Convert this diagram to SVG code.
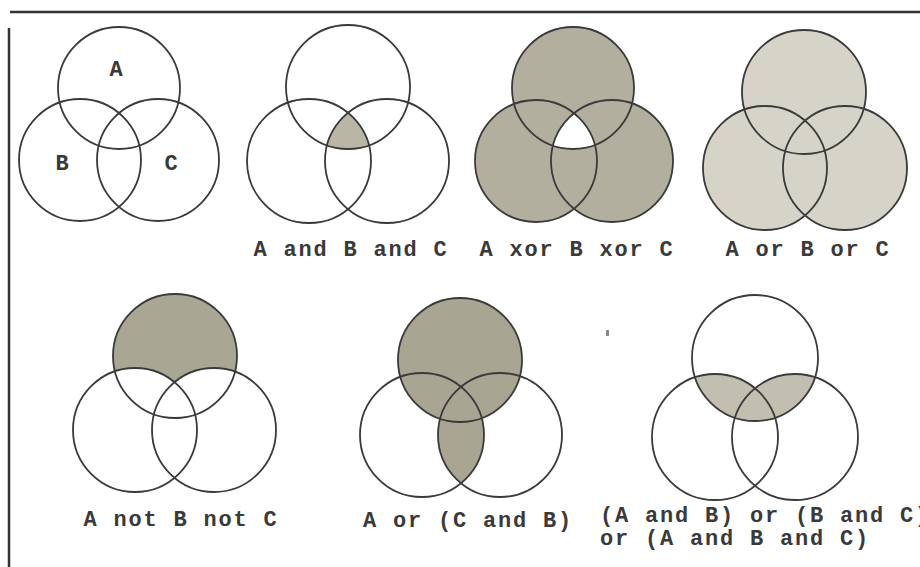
<svg xmlns="http://www.w3.org/2000/svg" width="920" height="567" viewBox="0 0 920 567">
<style>
.c{fill:none;stroke:#3a3a3a;stroke-width:1.8}
.lbl{font-family:"Liberation Mono","DejaVu Sans Mono",monospace;font-weight:bold;font-size:22px;letter-spacing:1.8px;fill:#3a3a3a}
.set{font-family:"Liberation Mono","DejaVu Sans Mono",monospace;font-weight:bold;font-size:22px;fill:#3a3a3a}
.frame{stroke:#333;stroke-width:2.5;fill:none}
</style>
<defs>
<clipPath id="d2B"><circle cx="309" cy="161" r="62"/></clipPath>
<clipPath id="d2C"><circle cx="387" cy="161" r="62"/></clipPath>
<clipPath id="d3A"><circle cx="573" cy="88" r="61"/></clipPath>
<clipPath id="d3B"><circle cx="536" cy="161" r="61"/></clipPath>
<clipPath id="d6C"><circle cx="500" cy="435" r="62"/></clipPath>
<clipPath id="d7A"><circle cx="755" cy="358" r="63"/></clipPath>
</defs>
<rect width="920" height="567" fill="#ffffff"/>
<g id="frame">
<line class="frame" x1="10" y1="12" x2="920" y2="12"/>
<line class="frame" x1="9" y1="28" x2="9" y2="567"/>
<rect x="606" y="330" width="3" height="6" fill="#8a8a8a"/>
</g>
<g id="venn-labels">
<circle class="c" cx="119" cy="88" r="61"/>
<circle class="c" cx="80" cy="160" r="61"/>
<circle class="c" cx="158" cy="160" r="61"/>
<text class="set" x="116" y="76" text-anchor="middle">A</text>
<text class="set" x="62" y="170" text-anchor="middle">B</text>
<text class="set" x="171" y="170" text-anchor="middle">C</text>
</g>
<g id="venn-and">
<g clip-path="url(#d2B)"><circle cx="348" cy="87" r="62" fill="#bab6a6" clip-path="url(#d2C)"/></g>
<circle class="c" cx="348" cy="87" r="62"/>
<circle class="c" cx="309" cy="161" r="62"/>
<circle class="c" cx="387" cy="161" r="62"/>
<text class="lbl" x="351" y="256" text-anchor="middle">A and B and C</text>
</g>
<g id="venn-xor">
<circle cx="573" cy="88" r="61" fill="#b3af9f"/>
<circle cx="536" cy="161" r="61" fill="#b3af9f"/>
<circle cx="612" cy="161" r="61" fill="#b3af9f"/>
<g clip-path="url(#d3A)"><circle cx="612" cy="161" r="61" fill="#ffffff" clip-path="url(#d3B)"/></g>
<circle class="c" cx="573" cy="88" r="61"/>
<circle class="c" cx="536" cy="161" r="61"/>
<circle class="c" cx="612" cy="161" r="61"/>
<text class="lbl" x="577" y="256" text-anchor="middle">A xor B xor C</text>
</g>
<g id="venn-or">
<circle cx="804" cy="92" r="62" fill="#d6d3c8"/>
<circle cx="765" cy="168" r="62" fill="#d6d3c8"/>
<circle cx="845" cy="168" r="62" fill="#d6d3c8"/>
<circle class="c" cx="804" cy="92" r="62"/>
<circle class="c" cx="765" cy="168" r="62"/>
<circle class="c" cx="845" cy="168" r="62"/>
<text class="lbl" x="808" y="256" text-anchor="middle">A or B or C</text>
</g>
<g id="venn-not">
<circle cx="175" cy="356" r="62" fill="#aaa694"/>
<circle cx="135" cy="430" r="62" fill="#ffffff"/>
<circle cx="214" cy="430" r="62" fill="#ffffff"/>
<circle class="c" cx="175" cy="356" r="62"/>
<circle class="c" cx="135" cy="430" r="62"/>
<circle class="c" cx="214" cy="430" r="62"/>
<text class="lbl" x="181" y="526" text-anchor="middle">A not B not C</text>
</g>
<g id="venn-a-or-cb">
<circle cx="460" cy="360" r="62" fill="#a9a593"/>
<circle cx="422" cy="435" r="62" fill="#a9a593" clip-path="url(#d6C)"/>
<circle class="c" cx="460" cy="360" r="62"/>
<circle class="c" cx="422" cy="435" r="62"/>
<circle class="c" cx="500" cy="435" r="62"/>
<text class="lbl" x="468" y="527" text-anchor="middle">A or (C and B)</text>
</g>
<g id="venn-pairs">
<g clip-path="url(#d7A)">
<circle cx="715" cy="437" r="63" fill="#c2beb0"/>
<circle cx="795" cy="437" r="63" fill="#c2beb0"/>
</g>
<circle class="c" cx="755" cy="358" r="63"/>
<circle class="c" cx="715" cy="437" r="63"/>
<circle class="c" cx="795" cy="437" r="63"/>
<text class="lbl" x="600" y="522">(A and B) or (B and C)</text>
<text class="lbl" x="600" y="545">or (A and B and C)</text>
</g>
</svg>
